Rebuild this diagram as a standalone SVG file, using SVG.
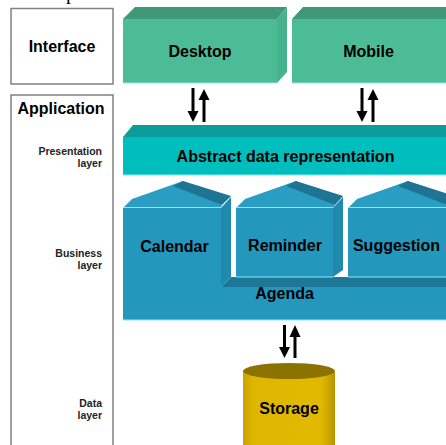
<svg xmlns="http://www.w3.org/2000/svg" width="446" height="445" viewBox="0 0 446 445">
<defs>
<style>
.frame{fill:#fff;stroke:#808080;stroke-width:1.5}
.ttl{font-family:"Liberation Sans",Arial,sans-serif;font-weight:bold;font-size:16px;fill:#000;text-anchor:middle}
.sm{font-family:"Liberation Sans",Arial,sans-serif;font-weight:bold;font-size:10.5px;fill:#222;text-anchor:end}
.gF{fill:#4CBC96}.gT{fill:#3F9878}.gS{fill:#47B28E}
.tF{fill:#00BEBE}.tT{fill:#0C9C9A}
.bF{fill:#2497BD}.bL{fill:#2A9DC2}.bD{fill:#1E7593}.bS{fill:#1F89AE}.bA{fill:#1D7898}
.hl{stroke:#8FE6F8;stroke-width:1;fill:none}
.arr{stroke:#000;stroke-width:3;fill:none}
</style>
<linearGradient id="gold" x1="0" y1="0" x2="1" y2="0">
<stop offset="0" stop-color="#C9A200"/>
<stop offset="0.12" stop-color="#E0B700"/>
<stop offset="0.85" stop-color="#E2B900"/>
<stop offset="1" stop-color="#B99400"/>
</linearGradient>
</defs>
<rect width="446" height="445" fill="#fff"/>
<text x="66" y="-1" font-family="Liberation Serif,serif" font-size="20" fill="#000">p</text>

<g id="interface-label">
<rect class="frame" x="11" y="8.5" width="102" height="75.5"/>
<text class="ttl" x="62" y="52">Interface</text>
</g>
<g id="application-label">
<rect class="frame" x="11" y="95" width="102" height="360"/>
<text class="ttl" x="61" y="114">Application</text>
<text class="sm" x="102" y="155">Presentation</text>
<text class="sm" x="102" y="167">layer</text>
<text class="sm" x="102" y="257">Business</text>
<text class="sm" x="102" y="269">layer</text>
<text class="sm" x="102" y="407">Data</text>
<text class="sm" x="102" y="419">layer</text>
</g>

<g id="desktop">
<polygon class="gT" points="123,19 135,7 287,7 277,19"/>
<polygon class="gS" points="277,19 287,7 287,72 277,83"/>
<rect class="gF" x="123" y="19" width="154" height="64"/>
<line class="hl" x1="123" y1="83" x2="277" y2="83" stroke="#9FF0D0"/>
<text class="ttl" x="200" y="57">Desktop</text>
</g>
<g id="mobile">
<polygon class="gT" points="292,19 303,7 450,7 450,19"/>
<rect class="gF" x="292" y="19" width="160" height="64"/>
<line class="hl" x1="292" y1="83" x2="446" y2="83"/>
<text class="ttl" x="368.5" y="57">Mobile</text>
</g>

<g id="abstract-data">
<polygon class="tT" points="123,137 133,125 450,125 450,137"/>
<rect class="tF" x="123" y="137" width="330" height="38"/>
<line class="hl" x1="123" y1="175" x2="446" y2="175"/>
<text class="ttl" x="285.5" y="162">Abstract data representation</text>
</g>

<g id="calendar-agenda">
<polygon class="bA" points="221,287 231,277 450,277 450,287"/>
<polygon class="bS" points="221,208 231,197 231,277 221,287"/>
<path class="bF" d="M123,208 H221 V287 H450 V320 H123 Z"/>
<polygon class="bL" points="123,208 132,199 183,181 222,205 221,208"/>
<polygon class="bD" points="173,186 183,181 231,196 222,205"/>
<line class="hl" x1="123" y1="207.5" x2="221" y2="207.5"/>
<line class="hl" x1="123" y1="320" x2="446" y2="320"/>
<text class="ttl" x="174.5" y="252">Calendar</text>
<text class="ttl" x="284.5" y="299">Agenda</text>
</g>
<g id="reminder">
<polygon class="bS" points="333,208 343,197 343,270 333,277"/>
<rect class="bF" x="236" y="208" width="97" height="69"/>
<polygon class="bL" points="236,208 245,199 296,181 335,205 333,208"/>
<polygon class="bD" points="286,186 296,181 343,196 335,205"/>
<line class="hl" x1="236" y1="207.5" x2="333" y2="207.5"/>
<line class="hl" x1="236" y1="277" x2="333" y2="277"/>
<text class="ttl" x="285" y="251">Reminder</text>
</g>
<g id="suggestion">
<rect class="bF" x="348" y="208" width="102" height="69"/>
<polygon class="bL" points="348,208 357,199 408,181 447,205 446,208"/>
<polygon class="bD" points="398,186 408,181 455,196 447,205"/>
<line class="hl" x1="348" y1="207.5" x2="446" y2="207.5"/>
<line class="hl" x1="348" y1="277" x2="446" y2="277"/>
<text class="ttl" x="396.5" y="251">Suggestion</text>
</g>

<g id="storage">
<rect x="243" y="371" width="92" height="80" fill="url(#gold)"/>
<ellipse cx="289" cy="371" rx="46" ry="8" fill="#8C7200"/>
<text class="ttl" x="289" y="414">Storage</text>
</g>

<g id="connectors">
<line class="arr" x1="193" y1="88" x2="193" y2="112"/>
<polygon points="187.5,111 198.5,111 193,122"/>
<line class="arr" x1="204" y1="99" x2="204" y2="122"/>
<polygon points="198.5,100 209.5,100 204,89"/>
<line class="arr" x1="362" y1="88" x2="362" y2="112"/>
<polygon points="356.5,111 367.5,111 362,122"/>
<line class="arr" x1="373" y1="99" x2="373" y2="122"/>
<polygon points="367.5,100 378.5,100 373,89"/>
<line class="arr" x1="284.5" y1="325" x2="284.5" y2="348"/>
<polygon points="279,347 290,347 284.5,358"/>
<line class="arr" x1="295" y1="336" x2="295" y2="358"/>
<polygon points="289.5,337 300.5,337 295,325"/>
</g>
</svg>
